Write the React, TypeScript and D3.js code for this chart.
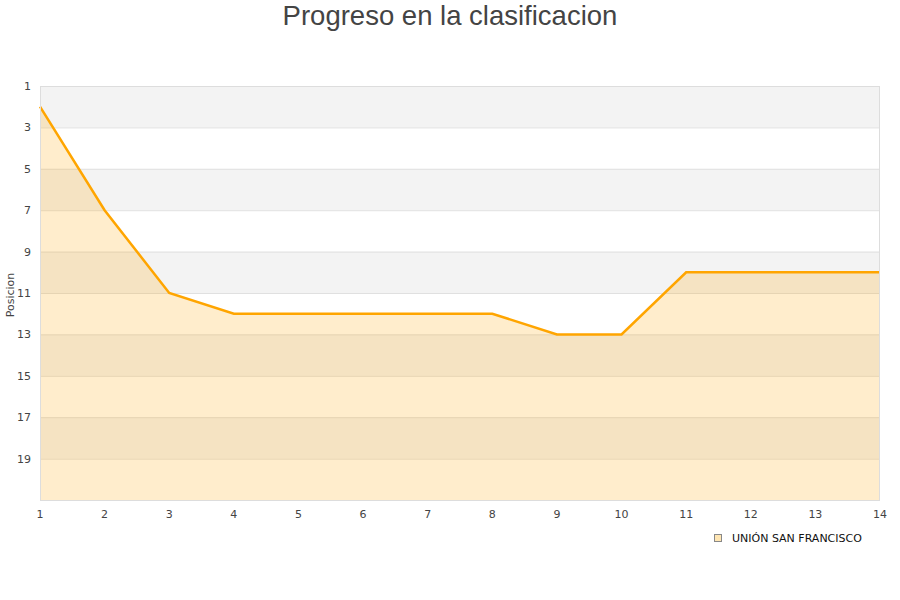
import { useEffect, useRef } from 'react';
import * as d3 from 'd3';

const jornadas = [1, 2, 3, 4, 5, 6, 7, 8, 9, 10, 11, 12, 13, 14];
const posiciones = [2, 7, 11, 12, 12, 12, 12, 12, 13, 13, 10, 10, 10, 10];
const yTicks = [1, 3, 5, 7, 9, 11, 13, 15, 17, 19];
const teamName = 'UNIÓN SAN FRANCISCO';
const chartTitle = 'Progreso en la clasificacion';

export default function App() {
  const svgRef = useRef<SVGSVGElement>(null);

  useEffect(() => {
    if (!svgRef.current) return;
    const svg = d3.select(svgRef.current);
    svg.selectAll('*').remove();

    const left = 40;
    const right = 880;
    const top = 86;
    const bottom = 500;

    const x = d3.scaleLinear().domain([1, 14]).range([left, right]);
    const y = d3.scaleLinear().domain([1, 21]).range([top, bottom]);

    // alternating bands
    for (let i = 0; i < yTicks.length; i += 2) {
      const a = yTicks[i];
      svg.append('rect')
        .attr('x', left)
        .attr('y', y(a))
        .attr('width', right - left)
        .attr('height', y(a + 2) - y(a))
        .attr('fill', '#f3f3f3');
    }

    // grid lines
    svg.append('g')
      .selectAll('line')
      .data(yTicks.slice(1))
      .enter()
      .append('line')
      .attr('x1', left)
      .attr('x2', right)
      .attr('y1', d => y(d) + 0.5)
      .attr('y2', d => y(d) + 0.5)
      .attr('stroke', '#e0e0e0')
      .attr('stroke-width', 1);

    const pts = jornadas.map((j, i) => [j, posiciones[i]] as [number, number]);

    const area = d3.area<[number, number]>()
      .x(d => x(d[0]))
      .y0(bottom)
      .y1(d => y(d[1]));

    svg.append('path')
      .datum(pts)
      .attr('d', area)
      .attr('fill', '#ffa500')
      .attr('fill-opacity', 0.2);

    const line = d3.line<[number, number]>()
      .x(d => x(d[0]))
      .y(d => y(d[1]));

    svg.append('path')
      .datum(pts)
      .attr('d', line)
      .attr('fill', 'none')
      .attr('stroke', '#ffa500')
      .attr('stroke-width', 2.5);

    // plot frame
    svg.append('rect')
      .attr('x', left + 0.5)
      .attr('y', top + 0.5)
      .attr('width', right - left - 1)
      .attr('height', bottom - top)
      .attr('fill', 'none')
      .attr('stroke', '#dddddd')
      .attr('stroke-width', 1);

    // y tick labels
    svg.append('g')
      .selectAll('text')
      .data(yTicks)
      .enter()
      .append('text')
      .attr('x', 31)
      .attr('y', d => y(d) + 4)
      .attr('text-anchor', 'end')
      .attr('font-family', 'DejaVu Sans, sans-serif')
      .attr('font-size', '11px')
      .attr('fill', '#444')
      .text(d => d);

    // x tick labels
    svg.append('g')
      .selectAll('text')
      .data(jornadas)
      .enter()
      .append('text')
      .attr('x', d => x(d))
      .attr('y', 518)
      .attr('text-anchor', 'middle')
      .attr('font-family', 'DejaVu Sans, sans-serif')
      .attr('font-size', '11px')
      .attr('fill', '#444')
      .text(d => d);

    // axis title
    svg.append('text')
      .attr('transform', `translate(14, ${(top + bottom) / 2 + 2}) rotate(-90)`)
      .attr('text-anchor', 'middle')
      .attr('font-family', 'DejaVu Sans, sans-serif')
      .attr('font-size', '11px')
      .attr('fill', '#444')
      .text('Posicion');

    // title
    svg.append('text')
      .attr('x', 450)
      .attr('y', 25)
      .attr('text-anchor', 'middle')
      .attr('font-family', 'Liberation Sans, Arial, sans-serif')
      .attr('font-size', '27.5px')
      .attr('fill', '#444')
      .text(chartTitle);

    // legend
    const legend = svg.append('g').attr('transform', 'translate(714, 534)');
    legend.append('rect')
      .attr('x', 0.5)
      .attr('y', 0.5)
      .attr('width', 7)
      .attr('height', 7)
      .attr('fill', '#ffe6b3')
      .attr('stroke', '#888')
      .attr('stroke-width', 1);
    legend.append('text')
      .attr('x', 18)
      .attr('y', 8)
      .attr('font-family', 'DejaVu Sans, sans-serif')
      .attr('font-size', '11px')
      .attr('fill', '#111')
      .text(teamName);
  }, []);

  return (
    <div style={{ position: 'absolute', left: 0, top: 0, width: 900, height: 600, background: '#fff' }}>
      <svg ref={svgRef} width={900} height={600} />
    </div>
  );
}
